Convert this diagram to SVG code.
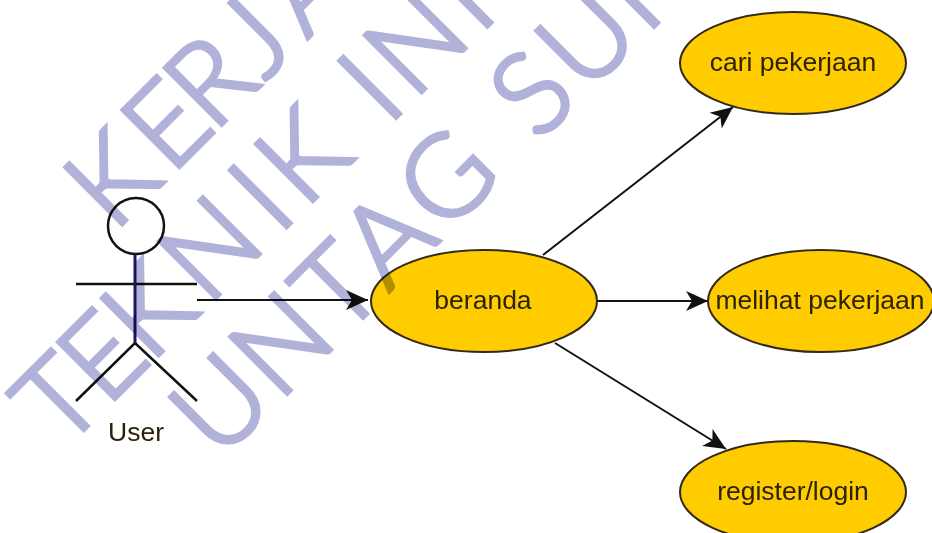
<svg xmlns="http://www.w3.org/2000/svg" width="932" height="533" viewBox="0 0 932 533">
<style>
.uc{fill:#ffcc00;stroke:#33291a;stroke-width:2}
.lb{font-family:"Liberation Sans",Arial,sans-serif;font-size:26.5px;fill:#2b2208;text-anchor:middle}
.ac{fill:none;stroke:#111;stroke-width:2.5}
.cn{fill:none;stroke:#111;stroke-width:2}
.wm{font-family:Lato,"Open Sans",sans-serif;font-weight:300;font-size:114px;fill:#b1b2d9;stroke:#b1b2d9;stroke-width:4;mix-blend-mode:multiply}
</style>
<defs>
<marker id="arr" markerUnits="userSpaceOnUse" markerWidth="26" markerHeight="24" refX="22" refY="12" orient="auto">
<path d="M0 2L22 12L0 22L6 12Z" fill="#111"/>
</marker>
</defs>
<rect width="932" height="533" fill="#fff"/>
<g id="connectors">
<path class="cn" marker-end="url(#arr)" d="M197 300L368 300"/>
<path class="cn" marker-end="url(#arr)" d="M597 301L708 301"/>
<path class="cn" marker-end="url(#arr)" d="M543 255L733 107"/>
<path class="cn" marker-end="url(#arr)" d="M555 343L726 449"/>
</g>
<g id="user">
<circle class="ac" cx="136" cy="226" r="28" fill="#fff"/>
<path class="ac" d="M76 284H197M76 401L135 343L197 401"/>
<path d="M135 254V343" fill="none" stroke="#17175c" stroke-width="3"/>
<text class="lb" x="136" y="441">User</text>
</g>
<g id="beranda"><ellipse class="uc" cx="484" cy="301" rx="113" ry="51"/><text class="lb" x="483" y="309">beranda</text></g>
<g id="cari-pekerjaan"><ellipse class="uc" cx="793" cy="63" rx="113" ry="51"/><text class="lb" x="793" y="71">cari pekerjaan</text></g>
<g id="melihat-pekerjaan"><ellipse class="uc" cx="821" cy="301" rx="113" ry="51"/><text class="lb" x="820" y="309">melihat pekerjaan</text></g>
<g id="register-login"><ellipse class="uc" cx="793" cy="492" rx="113" ry="51"/><text class="lb" x="793" y="500">register/login</text></g>
<g id="watermark">
<text class="wm" transform="translate(120 226.5) rotate(-45)" x="-9 72 132 205 264">KERJA</text>
<text class="wm" transform="translate(84.5 429.5) rotate(-45)" x="-31 31 93 174 274 311 400 429 465 558">TEKNIK INF</text>
<text class="wm" transform="translate(225 456) rotate(-45)" x="-8 76 165 231 311 400 443 510 595">UNTAG SUR</text>
</g>
</svg>
